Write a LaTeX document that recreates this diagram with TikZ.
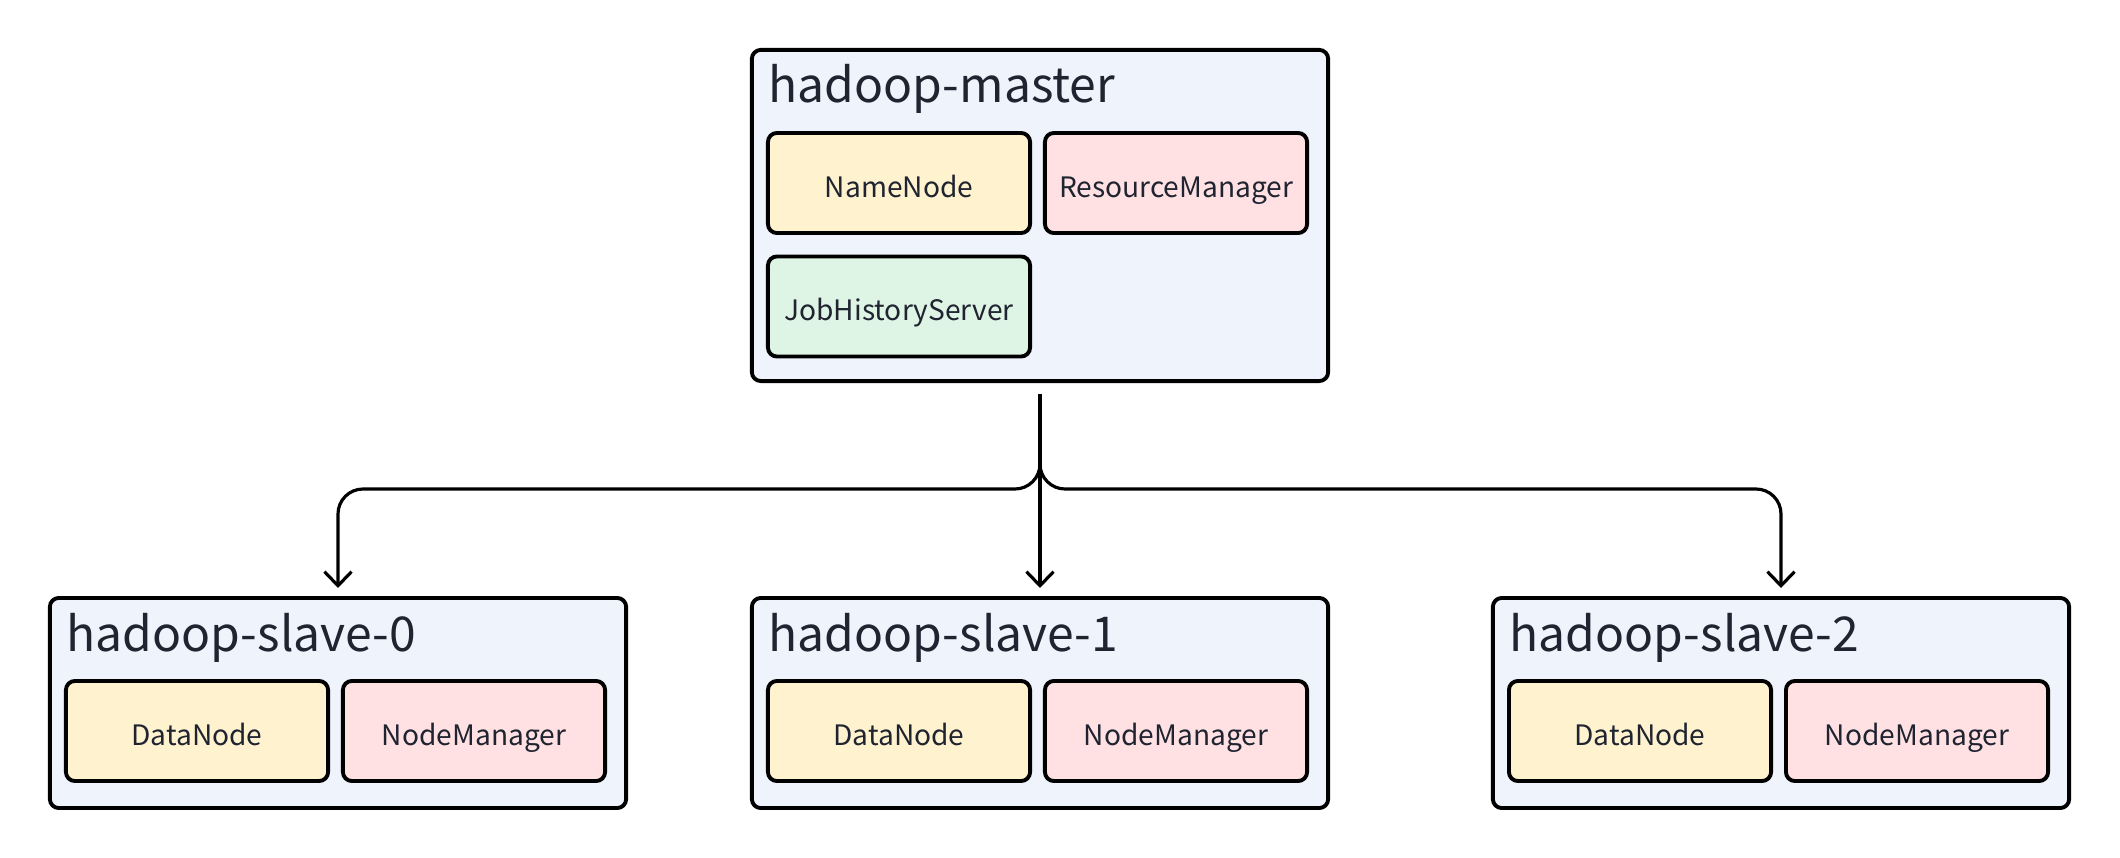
\documentclass[tikz,border=0pt]{standalone}
\usepackage{fontspec}
\setmainfont{Noto Sans CJK SC}
\usepackage{tikz, xcolor}
\usetikzlibrary{arrows.meta}

\definecolor{hostfill}{HTML}{EFF3FC}
\definecolor{yellowfill}{HTML}{FFF2CF}
\definecolor{pinkfill}{HTML}{FFE1E4}
\definecolor{greenfill}{HTML}{DEF4E5}
\definecolor{inktext}{HTML}{1F2430}

\begin{document}
\begin{tikzpicture}[x=0.01cm, y=-0.01cm,
    host/.style={draw, line width=1.1pt, rounded corners=0.09cm, fill=hostfill,
      minimum width=5.76cm, inner sep=0pt},
    hosttitle/.style={anchor=base west, inner sep=0pt, text=inktext,
      font=\fontsize{13.65}{16}\selectfont},
    daemon/.style={draw, line width=1.1pt, rounded corners=0.09cm,
      minimum width=2.62cm, minimum height=1cm, inner sep=0pt, text=inktext,
      text height=0.9em, text depth=0.1em,
      font=\fontsize{8}{10}\selectfont},
    link/.style={line width=0.9pt, rounded corners=0.25cm,
      -{Straight Barb[length=0.14cm, width=0.27cm, line width=0.9pt]},
      shorten <=0.11cm, shorten >=0.08cm}]
    \useasboundingbox (0, 0) rectangle (2120, 858);

    % master host
    \node [host, minimum height=3.31cm] (master) at (1040, 215.5) {};
    \node [hosttitle] (mastertitle) at (768, 103) {hadoop-master};
    \node [daemon, fill=yellowfill] (namenode) at (899, 183) {NameNode};
    \node [daemon, fill=pinkfill] (resourcemanager) at (1176, 183) {ResourceManager};
    \node [daemon, fill=greenfill] (jobhistory) at (899, 306.5) {JobHistoryServer};

    % slave hosts
    \foreach \i/\x in {0/338, 1/1040, 2/1781} {
      \node [host, minimum height=2.1cm] (slave\i) at (\x, 703) {};
      \node [hosttitle] (slavetitle\i) at (\x - 272, 652) {hadoop-slave-\i};
      \node [daemon, fill=yellowfill] (datanode\i) at (\x - 141, 731) {DataNode};
      \node [daemon, fill=pinkfill] (nodemanager\i) at (\x + 136, 731) {NodeManager};
    }

    \coordinate (split) at (1040, 489);
    \draw [link] (master.south) -- (split) -| (slave0.north);
    \draw [link] (master.south) -- (slave1.north);
    \draw [link] (master.south) -- (split) -| (slave2.north);

  \end{tikzpicture}
\end{document}
